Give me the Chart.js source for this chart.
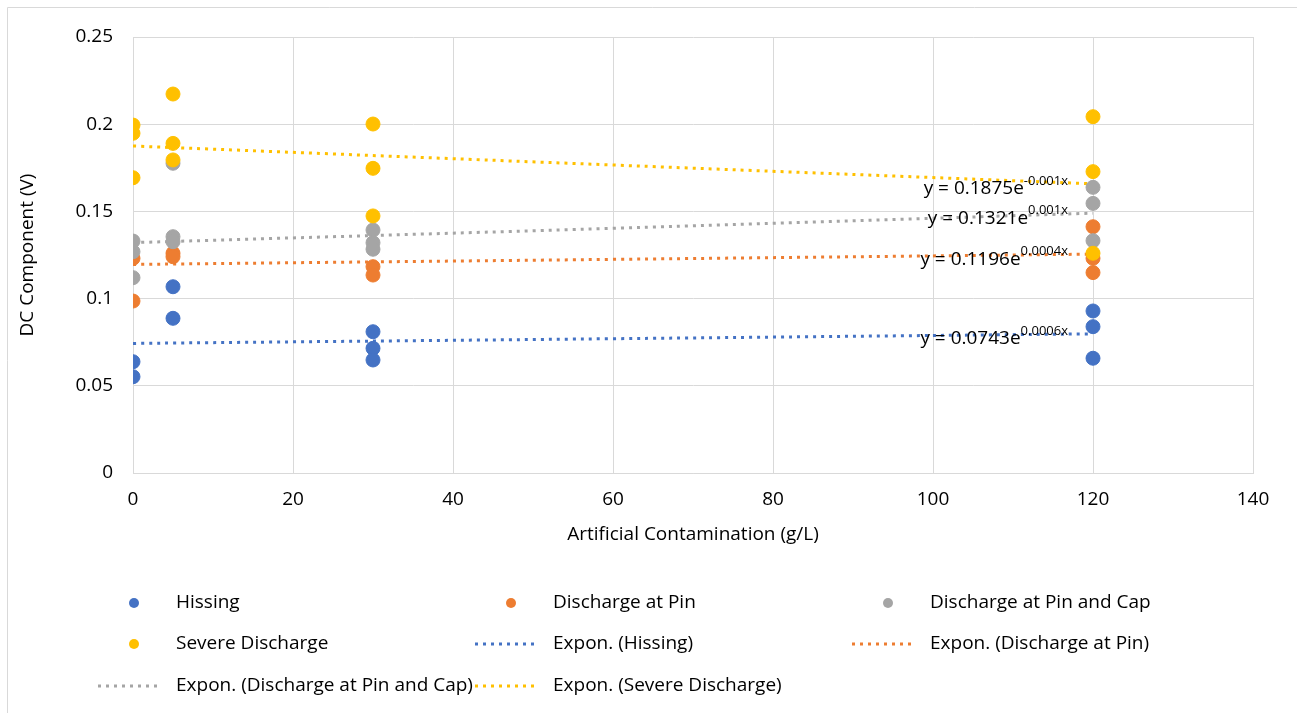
<!DOCTYPE html>
<html>
<head>
<meta charset="utf-8">
<script src="https://cdn.jsdelivr.net/npm/chart.js@4.4.1/dist/chart.umd.min.js"></script>
<style>
  html, body { margin: 0; padding: 0; background: #fff; }
  #wrap { position: relative; width: 1297px; height: 713px; }
</style>
</head>
<body>
<div id="wrap"><canvas id="myChart" width="1297" height="713"></canvas></div>
<script>
// values
const hissingX = [0, 0, 5, 5, 30, 30, 30, 120, 120, 120];
const hissingY = [0.0638, 0.0552, 0.1068, 0.0887, 0.081, 0.0715, 0.0648, 0.0929, 0.0839, 0.0658];

const pinX = [0, 0, 5, 5, 30, 30, 120, 120, 120];
const pinY = [0.1231, 0.0986, 0.126, 0.124, 0.1183, 0.1135, 0.1412, 0.1231, 0.1149];

const pinCapX = [0, 0, 0, 5, 5, 5, 30, 30, 30, 120, 120, 120];
const pinCapY = [0.133, 0.1269, 0.112, 0.1776, 0.1355, 0.1326, 0.1393, 0.132, 0.1283, 0.1638, 0.1546, 0.1332];

const severeX = [0, 0, 0, 5, 5, 5, 30, 30, 30, 120, 120, 120];
const severeY = [0.1995, 0.1948, 0.1693, 0.2173, 0.189, 0.1795, 0.2001, 0.1747, 0.1474, 0.2043, 0.1728, 0.126];

// exponential trend lines, read at start / middle / end
const trendX = [0, 60, 120];
const trendHissing = [0.0743, 0.077, 0.0798];
const trendPin = [0.1196, 0.1225, 0.1255];
const trendPinCap = [0.1321, 0.1403, 0.149];
const trendSevere = [0.1875, 0.1766, 0.1658];

const seriesNames = ['Hissing', 'Discharge at Pin', 'Discharge at Pin and Cap', 'Severe Discharge'];
const colors = ['#4472C4', '#ED7D31', '#A5A5A5', '#FFC000'];
const equations = [
  ['y = 0.0743e', '0.0006x'],
  ['y = 0.1196e', '0.0004x'],
  ['y = 0.1321e', '0.001x'],
  ['y = 0.1875e', '-0.001x']
];

const xTicks = [0, 20, 40, 60, 80, 100, 120, 140];
const yTicks = [0, 0.05, 0.1, 0.15, 0.2, 0.25];

const FONT = '"Open Sans", "Noto Sans", sans-serif';
const FS = 19;

function toPoints(xs, ys) {
  return xs.map((x, i) => ({ x: x, y: ys[i] }));
}

const pointSets = [[hissingX, hissingY], [pinX, pinY], [pinCapX, pinCapY], [severeX, severeY]];
const trendSets = [trendHissing, trendPin, trendPinCap, trendSevere];

const datasets = [];
pointSets.forEach((s, i) => {
  datasets.push({
    label: seriesNames[i],
    data: toPoints(s[0], s[1]),
    showLine: false,
    pointRadius: 7,
    pointHoverRadius: 7,
    pointBackgroundColor: colors[i],
    pointBorderColor: colors[i],
    pointBorderWidth: 1,
    order: 8 - i
  });
});
trendSets.forEach((t, i) => {
  datasets.push({
    label: 'Expon. (' + seriesNames[i] + ')',
    data: toPoints(trendX, t),
    showLine: true,
    tension: 0.4,
    pointRadius: 0,
    borderColor: colors[i],
    borderWidth: 3,
    borderDash: [3, 5],
    fill: false,
    isTrend: true,
    order: 12 - i
  });
});

// equation labels next to the right end of each trend line
const equationPlugin = {
  id: 'equations',
  afterDatasetsDraw(chart) {
    const ctx = chart.ctx;
    const xs = chart.scales.x, ys = chart.scales.y;
    ctx.save();
    ctx.fillStyle = '#000';
    ctx.textBaseline = 'middle';
    trendSets.forEach((t, i) => {
      const ex = xs.getPixelForValue(trendX[trendX.length - 1]);
      const ey = ys.getPixelForValue(t[t.length - 1]);
      const right = ex - 25;
      const cy = ey + 5;
      ctx.font = '13px ' + FONT;
      const supW = ctx.measureText(equations[i][1]).width;
      ctx.font = FS + 'px ' + FONT;
      const baseW = ctx.measureText(equations[i][0]).width;
      const left = right - supW - baseW;
      ctx.textAlign = 'left';
      ctx.fillText(equations[i][0], left, cy);
      ctx.font = '13px ' + FONT;
      ctx.fillText(equations[i][1], left + baseW, cy - 8);
    });
    ctx.restore();
  }
};

// Excel-style three column legend below the axis title
const legendPlugin = {
  id: 'gridLegend',
  afterDraw(chart) {
    const ctx = chart.ctx;
    const colX = [98, 475, 852];
    const rowY = [603, 644, 686];
    ctx.save();
    chart.data.datasets.forEach((ds, i) => {
      const bx = colX[i % 3];
      const by = rowY[Math.floor(i / 3)];
      if (ds.isTrend) {
        ctx.strokeStyle = ds.borderColor;
        ctx.lineWidth = 3;
        ctx.setLineDash([3, 5]);
        ctx.beginPath();
        ctx.moveTo(bx, by);
        ctx.lineTo(bx + 63, by);
        ctx.stroke();
        ctx.setLineDash([]);
      } else {
        ctx.fillStyle = ds.pointBackgroundColor;
        ctx.beginPath();
        ctx.arc(bx + 36, by, 5, 0, Math.PI * 2);
        ctx.fill();
      }
      ctx.fillStyle = '#000';
      ctx.font = FS + 'px ' + FONT;
      ctx.textAlign = 'left';
      ctx.textBaseline = 'middle';
      ctx.fillText(ds.label, bx + 78, by);
    });
    // outer chart frame (top and left edges visible)
    ctx.strokeStyle = '#d9d9d9';
    ctx.lineWidth = 1;
    ctx.beginPath();
    ctx.moveTo(7.5, 713);
    ctx.lineTo(7.5, 7.5);
    ctx.lineTo(1297, 7.5);
    ctx.stroke();
    ctx.restore();
  }
};

const ctx = document.getElementById('myChart').getContext('2d');
new Chart(ctx, {
  type: 'scatter',
  data: { datasets: datasets },
  options: {
    responsive: false,
    animation: false,
    events: [],
    layout: { padding: { left: 0, top: 37, right: 44, bottom: 163 } },
    plugins: {
      legend: { display: false },
      tooltip: { enabled: false }
    },
    scales: {
      x: {
        type: 'linear',
        min: 0,
        max: 140,
        afterBuildTicks(axis) { axis.ticks = xTicks.map(v => ({ value: v })); },
        afterFit(axis) { axis.height = 77; },
        grid: { color: '#d9d9d9', lineWidth: 1, drawTicks: false },
        border: { color: '#d9d9d9' },
        ticks: { padding: 15, color: '#000', font: { family: FONT, size: FS } },
        title: {
          display: true,
          text: 'Artificial Contamination (g/L)',
          color: '#000',
          font: { family: FONT, size: FS },
          padding: { top: 0, bottom: 4 }
        }
      },
      y: {
        min: 0,
        max: 0.25,
        afterBuildTicks(axis) { axis.ticks = yTicks.map(v => ({ value: v })); },
        afterFit(axis) { axis.width = 133; },
        grid: { color: '#d9d9d9', lineWidth: 1, drawTicks: false },
        border: { color: '#d9d9d9' },
        ticks: {
          padding: 20,
          color: '#000',
          font: { family: FONT, size: FS },
          callback: v => String(v)
        },
        title: {
          display: true,
          text: 'DC Component (V)',
          color: '#000',
          font: { family: FONT, size: FS },
          padding: { top: 16, bottom: 0 }
        }
      }
    }
  },
  plugins: [equationPlugin, legendPlugin]
});
</script>
</body>
</html>
